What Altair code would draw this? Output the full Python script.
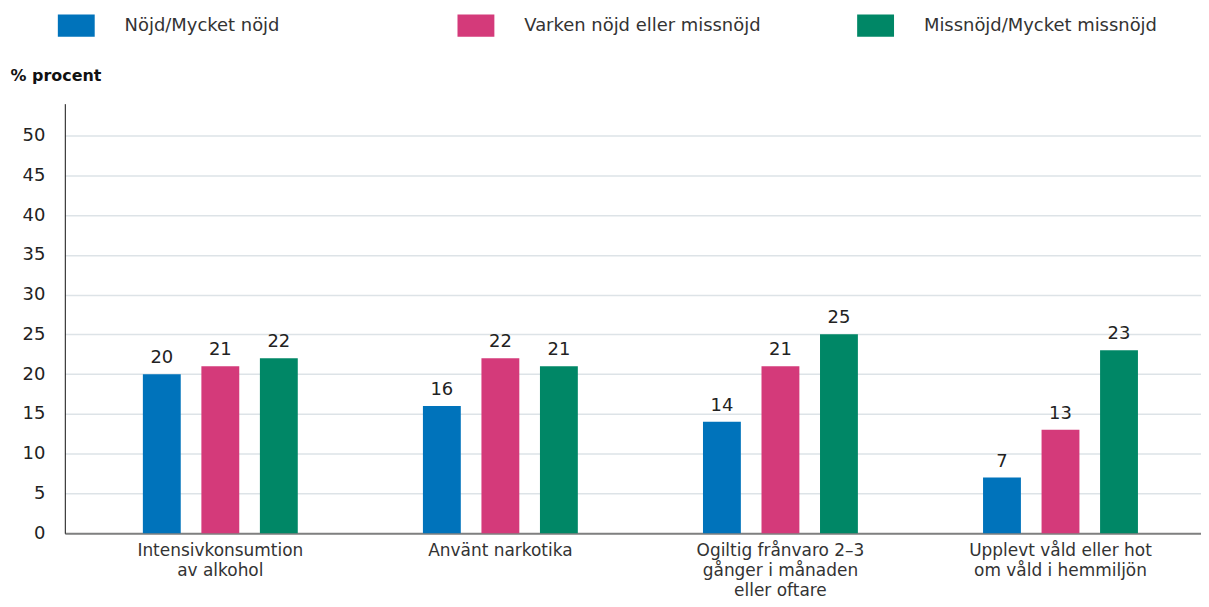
import altair as alt
import pandas as pd

categories = [
    "Intensivkonsumtion\nav alkohol",
    "Använt narkotika",
    "Ogiltig frånvaro 2–3\ngånger i månaden\neller oftare",
    "Upplevt våld eller hot\nom våld i hemmiljön",
]
series = ["Nöjd/Mycket nöjd", "Varken nöjd eller missnöjd", "Missnöjd/Mycket missnöjd"]
nojd = [20, 16, 14, 7]
varken = [21, 22, 21, 13]
missnojd = [22, 21, 25, 23]
colors = ["#0073BB", "#D43A7A", "#008766"]
y_ticks = [0, 5, 10, 15, 20, 25, 30, 35, 40, 45, 50]

rows = []
for s, vals in zip(series, [nojd, varken, missnojd]):
    for c, v in zip(categories, vals):
        rows.append({"kategori": c, "grupp": s, "procent": v})
df = pd.DataFrame(rows)

FONT = "DejaVu Sans"

x = alt.X(
    "kategori:N",
    sort=categories,
    scale=alt.Scale(paddingInner=0, paddingOuter=0.0285, align=0.97),
    axis=alt.Axis(
        title=None,
        labelAngle=0,
        labelExpr="split(datum.label, '\\n')",
        labelFontSize=17,
        labelColor="#333333",
        labelFont=FONT,
        labelLineHeight=20,
        labelPadding=9,
        labelLimit=400,
        ticks=False,
        domainColor="#808080",
        domainWidth=2,
        grid=False,
    ),
)
xoff = alt.XOffset(
    "grupp:N",
    sort=series,
    scale=alt.Scale(paddingInner=0.214, paddingOuter=1),
)
y = alt.Y(
    "procent:Q",
    scale=alt.Scale(domain=[0, 54], nice=False),
    axis=alt.Axis(
        title="% procent",
        titleAngle=0,
        titleAlign="left",
        titleBaseline="middle",
        titleX=-55,
        titleY=-28,
        titleFontSize=16,
        titleFontWeight="bold",
        titleFont=FONT,
        titleColor="#111111",
        values=y_ticks,
        ticks=False,
        labelPadding=20,
        labelFontSize=18,
        labelFont=FONT,
        labelColor="#222222",
        domainColor="#111111",
        domainWidth=1,
        gridColor="#dde3e7",
        gridWidth=1.5,
    ),
)
color = alt.Color(
    "grupp:N",
    sort=series,
    scale=alt.Scale(domain=series, range=colors),
    legend=alt.Legend(
        title=None,
        orient="none",
        legendX=-7,
        legendY=-97,
        direction="horizontal",
        columns=3,
        gridAlign="all",
        columnPadding=96,
        symbolType="M-1,-0.6H1V0.6H-1Z",
        symbolSize=1369,
        symbolStrokeWidth=0,
        symbolOpacity=1,
        labelOffset=30,
        labelFontSize=18,
        labelFont=FONT,
        labelColor="#333333",
        labelLimit=400,
    ),
)

bars = alt.Chart(df).mark_bar(size=38).encode(x=x, xOffset=xoff, y=y, color=color)
labels = alt.Chart(df).mark_text(
    baseline="alphabetic", dy=-11, fontSize=18, font=FONT, color="#222222"
).encode(x=x, xOffset=xoff, y=y, text="procent:Q")

chart = (
    alt.layer(bars, labels)
    .properties(
        width=1140,
        height=431,
        autosize=alt.AutoSizeParams(type="none"),
        padding={"left": 57, "top": 95, "right": 0, "bottom": 65},
    )
    .configure_view(stroke=None)
)

chart.save("out.html", embed_options={"renderer": "svg", "actions": False})
